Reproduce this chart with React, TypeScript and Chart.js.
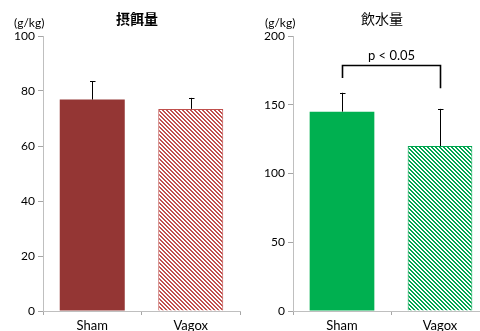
import React, { useEffect, useRef } from "react";
import { Chart, registerables } from "chart.js";
Chart.register(...registerables);

const categories = ["Sham", "Vagox"];
const foodValues = [76.9, 73.5];
const foodErrors = [6.7, 4.0];
const foodTicks = [0, 20, 40, 60, 80, 100];
const waterValues = [145, 120];
const waterErrors = [13.7, 27];
const waterTicks = [0, 50, 100, 150, 200];
// bracket: left leg bottom, bar level, right leg bottom
const bracketLevels = [169.5, 179, 162];
const bracketLabel = "p < 0.05";
const unitLabel = "(g/kg)";
const foodTitle = "摂餌量";
const waterTitle = "飲水量";

const FONT = "Lato, 'Noto Sans', sans-serif";

function makePattern(color: string): CanvasPattern | string {
  const c = document.createElement("canvas");
  c.width = 4;
  c.height = 4;
  const g = c.getContext("2d");
  if (!g) return color;
  g.fillStyle = "#ffffff";
  g.fillRect(0, 0, 4, 4);
  g.fillStyle = color;
  for (let x = 0; x < 4; x++) {
    for (let y = 0; y < 4; y++) {
      const d = (((x - y) % 4) + 4) % 4;
      if (d < 2) g.fillRect(x, y, 1, 1);
    }
  }
  const p = g.createPattern(c, "repeat");
  return p || color;
}

interface Cfg {
  values: number[];
  errors: number[];
  ticks: number[];
  max: number;
  solid: string;
  hatch: string;
  title: string;
  titleBold: boolean;
  titleOffset: number;
  unitX: number;
  yWidth: number;
  bracket?: boolean;
}

function makeChart(canvas: HTMLCanvasElement, cfg: Cfg) {
  const pattern = makePattern(cfg.hatch);
  const overlay = {
    id: "overlay" + cfg.title,
    afterDatasetsDraw(chart: any) {
      const ctx = chart.ctx;
      const xs = chart.scales.x;
      const ys = chart.scales.y;
      const meta = chart.getDatasetMeta(0);
      ctx.save();
      ctx.strokeStyle = "#000";
      ctx.lineWidth = 1;
      cfg.values.forEach((v, i) => {
        const x = Math.round(meta.data[i].x) + 0.5;
        const y0 = ys.getPixelForValue(v);
        const y1 = ys.getPixelForValue(v + cfg.errors[i]);
        ctx.beginPath();
        ctx.moveTo(x, y0);
        ctx.lineTo(x, y1);
        ctx.moveTo(x - 2.5, Math.round(y1) + 0.5);
        ctx.lineTo(x + 3, Math.round(y1) + 0.5);
        ctx.stroke();
      });
      if (cfg.bracket) {
        const xl = Math.round(xs.getPixelForValue(0)) + 0.5;
        const xr = Math.round(xs.getPixelForValue(1)) + 0.5;
        const yl = ys.getPixelForValue(bracketLevels[0]);
        const yt = Math.round(ys.getPixelForValue(bracketLevels[1])) + 0.5;
        const yr = ys.getPixelForValue(bracketLevels[2]);
        ctx.lineWidth = 1.6;
        ctx.beginPath();
        ctx.moveTo(xl, yl);
        ctx.lineTo(xl, yt);
        ctx.lineTo(xr, yt);
        ctx.lineTo(xr, yr);
        ctx.stroke();
        ctx.fillStyle = "#000";
        ctx.font = "13px " + FONT;
        ctx.textAlign = "center";
        ctx.textBaseline = "middle";
        ctx.fillText(bracketLabel, (xl + xr) / 2, yt - 10);
      }
      ctx.fillStyle = "#000";
      ctx.font = "12px " + FONT;
      ctx.textAlign = "left";
      ctx.textBaseline = "middle";
      ctx.fillText(unitLabel, cfg.unitX, 23);
      ctx.font = (cfg.titleBold ? "bold " : "") + "14px 'Noto Sans CJK JP', sans-serif";
      ctx.textAlign = "center";
      ctx.fillText(cfg.title, chart.chartArea.left + cfg.titleOffset, 19);
      ctx.restore();
    },
  };
  return new Chart(canvas, {
    type: "bar",
    data: {
      labels: categories,
      datasets: [
        {
          data: cfg.values,
          backgroundColor: [cfg.solid, pattern as any],
          borderColor: [cfg.solid, cfg.hatch],
          borderWidth: [0, 1] as any,
          barPercentage: 0.66,
          categoryPercentage: 1,
        },
      ],
    },
    options: {
      responsive: false,
      animation: false,
      devicePixelRatio: 1,
      layout: { padding: { top: 36, right: 1, left: 0, bottom: 0 } },
      plugins: { legend: { display: false }, tooltip: { enabled: false } },
      scales: {
        x: {
          grid: {
            display: true,
            offset: true,
            drawOnChartArea: false,
            drawTicks: true,
            tickLength: 4,
            color: "#a6a6a6",
          },
          border: { display: true, color: "#bfbfbf", width: 1 },
          ticks: { color: "#000", font: { family: FONT, size: 13 }, padding: 3 },
          afterFit: (s: any) => {
            s.height = 20;
          },
        },
        y: {
          min: 0,
          max: cfg.max,
          afterBuildTicks: (s: any) => {
            s.ticks = cfg.ticks.map((v) => ({ value: v }));
          },
          grid: {
            display: true,
            drawOnChartArea: false,
            drawTicks: true,
            tickLength: 5,
            color: "#a6a6a6",
          },
          border: { display: true, color: "#bfbfbf", width: 1 },
          ticks: { color: "#000", font: { family: FONT, size: 12 }, padding: 3 },
          afterFit: (s: any) => {
            s.width = cfg.yWidth;
          },
        },
      },
    },
    plugins: [overlay],
  });
}

export default function App() {
  const leftRef = useRef<HTMLCanvasElement>(null);
  const rightRef = useRef<HTMLCanvasElement>(null);
  useEffect(() => {
    const a = makeChart(leftRef.current!, {
      values: foodValues,
      errors: foodErrors,
      ticks: foodTicks,
      max: 100,
      solid: "#943634",
      hatch: "#c0504d",
      title: foodTitle,
      titleBold: true,
      titleOffset: 94,
      unitX: 14,
      yWidth: 43,
    });
    const b = makeChart(rightRef.current!, {
      values: waterValues,
      errors: waterErrors,
      ticks: waterTicks,
      max: 200,
      solid: "#00b050",
      hatch: "#00a550",
      title: waterTitle,
      titleBold: false,
      titleOffset: 89,
      unitX: 25,
      yWidth: 53,
      bracket: true,
    });
    return () => {
      a.destroy();
      b.destroy();
    };
  }, []);
  return (
    <div
      style={{
        position: "fixed",
        left: 0,
        top: 0,
        width: 480,
        height: 331,
        overflow: "hidden",
        background: "#fff",
      }}
    >
      <canvas ref={leftRef} width={241} height={331} style={{ position: "absolute", left: 0, top: 0 }} />
      <canvas ref={rightRef} width={250} height={331} style={{ position: "absolute", left: 240, top: 0 }} />
    </div>
  );
}
